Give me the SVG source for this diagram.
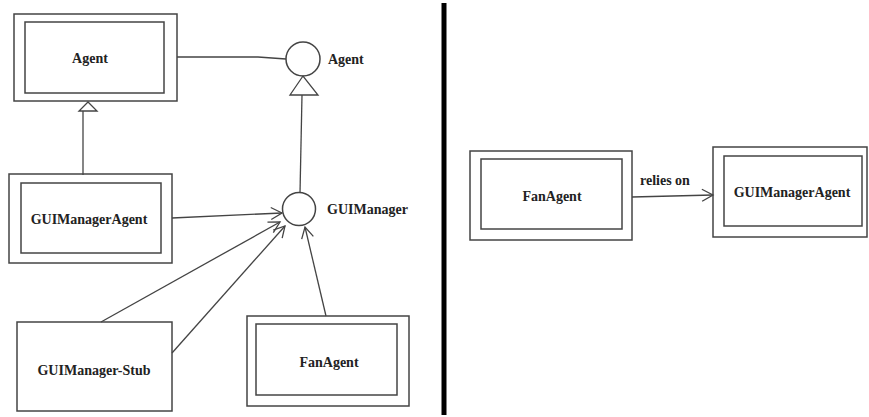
<svg xmlns="http://www.w3.org/2000/svg" width="869" height="417" viewBox="0 0 869 417">
<style>
.b{fill:none;stroke:#444;stroke-width:1.5}
.l{fill:none;stroke:#444;stroke-width:1.3}
text{font-family:'Liberation Serif','DejaVu Serif',serif;font-weight:bold;font-size:14px;fill:#222}
.t{text-anchor:middle}
</style>
<defs>
<marker id="open" markerWidth="14" markerHeight="14" refX="12" refY="7" orient="auto" markerUnits="userSpaceOnUse">
<path d="M1,1 L12,7 L1,13" fill="none" stroke="#444" stroke-width="1.3"/>
</marker>
</defs>
<rect width="869" height="417" fill="#fff"/>
<line x1="444" y1="3" x2="444" y2="415" stroke="#000" stroke-width="5"/>
<g id="connectors">
<polyline class="l" points="177,57 258,57 286,59"/>
<line class="l" x1="302" y1="95" x2="300" y2="193"/>
<line class="l" x1="83" y1="111" x2="83" y2="175"/>
<line class="l" x1="172" y1="218" x2="282" y2="213" marker-end="url(#open)"/>
<line class="l" x1="101" y1="322" x2="280" y2="222" marker-end="url(#open)"/>
<line class="l" x1="172" y1="353" x2="285" y2="226" marker-end="url(#open)"/>
<line class="l" x1="326" y1="316" x2="305" y2="227" marker-end="url(#open)"/>
<line class="l" x1="632" y1="197" x2="713" y2="195" marker-end="url(#open)"/>
<text x="640" y="185">relies on</text>
</g>
<g id="agent">
<rect class="b" x="14" y="14" width="163" height="87"/>
<rect class="b" x="25" y="22" width="139" height="71"/>
<text class="t" x="90" y="63">Agent</text>
<path d="M88,102 L79,111 L97,111 Z" fill="#fff" stroke="#444" stroke-width="1.3"/>
</g>
<g id="agent-interface">
<circle class="b" cx="303" cy="59" r="17"/>
<path d="M303,76 L290,95 L318,95 Z" fill="#fff" stroke="#444" stroke-width="1.3"/>
<text x="328" y="64">Agent</text>
</g>
<g id="guimanager-interface">
<circle class="b" cx="299" cy="209" r="16.5"/>
<text x="327" y="214">GUIManager</text>
</g>
<g id="guimanageragent">
<rect class="b" x="9" y="174" width="163" height="89"/>
<rect class="b" x="21" y="183" width="140" height="70"/>
<text class="t" x="89" y="224">GUIManagerAgent</text>
</g>
<g id="guimanager-stub">
<rect class="b" x="17" y="322" width="155" height="89"/>
<text class="t" x="94" y="375">GUIManager-Stub</text>
</g>
<g id="fanagent-left">
<rect class="b" x="247" y="316" width="162" height="90"/>
<rect class="b" x="256" y="324" width="141" height="71"/>
<text class="t" x="329" y="367">FanAgent</text>
</g>
<g id="fanagent-right">
<rect class="b" x="470" y="151" width="162" height="89"/>
<rect class="b" x="481" y="159" width="141" height="70"/>
<text class="t" x="552" y="201">FanAgent</text>
</g>
<g id="guimanageragent-right">
<rect class="b" x="713" y="147" width="154" height="90"/>
<rect class="b" x="724" y="156" width="138" height="70"/>
<text class="t" x="792" y="197">GUIManagerAgent</text>
</g>
</svg>
